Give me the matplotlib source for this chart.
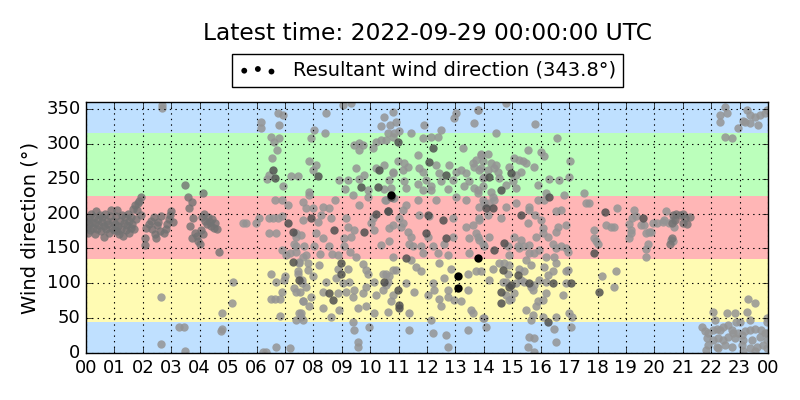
import matplotlib
matplotlib.use("Agg")
import matplotlib.pyplot as plt

# hour of day (UTC) and wind direction (deg), grouped by shade of the marker
mid_h = [0.02, 0.04, 0.06, 0.09, 0.12, 0.15, 0.18, 0.2, 0.24, 0.27, 0.3, 0.33, 0.36, 0.39, 0.42, 0.45,
         0.48, 0.52, 0.55, 0.58, 0.62, 0.65, 0.68, 0.72, 0.75, 0.78, 0.82, 0.85, 0.88, 0.92, 0.95, 0.98,
         1.02, 1.05, 1.08, 1.1, 1.13, 1.16, 1.2, 1.23, 1.26, 1.3, 1.33, 1.37, 1.4, 1.43, 1.47, 1.5,
         1.53, 1.57, 1.6, 1.63, 1.67, 1.7, 1.73, 1.77, 1.8, 1.83, 1.87, 1.92, 1.95,
         2.06, 2.09, 2.12, 2.2, 2.28, 2.33, 2.38, 2.42, 2.45, 2.5, 2.55, 2.6, 2.65, 2.75, 2.8, 2.86,
         2.92, 2.97, 3.0, 3.05,
         3.5, 3.58, 3.74, 3.62, 3.78, 3.66, 3.85, 3.9, 3.95, 4.02, 3.72,
         4.1, 4.08, 4.15, 4.2, 4.25, 4.3, 4.35, 4.4, 4.45, 4.5, 4.55, 4.62, 4.69, 4.04, 4.1,
         20.67, 20.78, 20.9, 21.02, 21.08, 21.25, 20.72, 20.61, 20.61, 20.55, 21.02, 21.14]
mid_d = [190, 180, 172, 195, 185, 176, 200, 188, 180, 195, 170, 186, 203, 178, 192, 184,
         198, 175, 188, 195, 166, 182, 200, 178, 190, 185, 172, 197, 205, 180, 190, 176,
         185, 196, 175, 205, 182, 170, 190, 178, 198, 168, 186, 195, 176, 183, 200, 172,
         190, 180, 195, 185, 206, 178, 212, 192, 205, 215, 218, 224, 198,
         165, 155, 180, 185, 190, 178, 195, 170, 165, 183, 188, 175, 197, 172, 178, 185,
         192, 198, 203, 188,
         241, 224, 217, 208, 194, 182, 172, 168, 160, 157, 165,
         229, 195, 200, 190, 185, 195, 188, 182, 192, 180, 186, 178, 145, 177, 170,
         198, 200, 198, 200, 193, 195, 191, 186, 165, 157, 186, 185]

light_h = [2.69, 2.69, 2.63, 3.27, 3.45, 2.65, 3.48,
           5.51, 5.63, 5.98, 6.10, 6.45, 6.59, 6.74, 6.43, 6.69, 6.90, 5.16, 5.14, 4.79, 4.75, 4.79,
           6.22, 6.33, 6.74, 6.94, 6.16, 6.16, 6.78, 6.51, 6.63, 6.80, 6.71, 6.54, 6.43, 6.36, 6.94,
           7.21, 7.45, 6.66, 6.88, 7.10, 7.39, 7.33, 6.90, 7.04, 7.18, 7.39, 7.62, 7.51,
           6.51, 6.69, 7.01, 6.98, 7.45, 7.60, 7.33, 6.90, 6.51, 6.66, 6.83, 7.53, 7.62, 6.83, 7.56,
           7.62, 6.69, 7.18,
           9.03, 9.32, 8.44, 10.5, 10.38, 10.70, 10.85, 7.92, 8.42, 8.03,
           9.62, 9.74, 9.44, 9.62, 10.20, 10.38, 10.09, 7.86, 8.09, 7.98, 9.50, 10.20, 10.50, 10.79,
           9.62, 9.79, 9.21, 8.91, 9.13, 9.91, 10.50, 10.81, 7.86, 7.83, 9.38,
           7.62, 7.74, 7.98, 8.33, 8.56, 8.77, 9.62, 9.91, 10.53, 10.09, 7.62, 8.27, 8.15, 8.62,
           9.15, 9.21, 9.44, 10.03, 10.15, 10.79, 7.39, 7.56, 8.09, 8.33, 9.09, 9.32, 10.67, 10.38,
           7.39, 7.68, 8.03, 8.56, 9.09, 7.74, 8.23, 8.66, 8.86, 9.29, 9.50, 9.74,
           7.51, 7.80, 8.21, 7.80, 8.86, 9.21, 9.85, 10.44, 10.67, 10.79, 7.45, 7.60, 7.98, 8.44,
           8.80, 9.03, 9.27, 9.91, 10.15, 10.56, 7.39, 7.74, 7.92, 8.33, 8.86, 9.15, 9.38, 9.74,
           9.85, 9.44, 10.20, 10.44, 10.79, 7.62, 7.86, 7.56, 8.33, 8.62, 8.91, 9.56, 9.85, 10.15,
           10.61, 7.39, 7.51, 9.38, 9.44, 9.97, 9.56, 9.56,
           10.79, 10.91, 11.91, 13.02, 12.96, 13.78, 13.66, 10.61, 11.03, 11.44,
           10.56, 10.79, 11.85, 12.14, 12.37, 12.49, 13.25, 13.90, 11.67, 10.79, 10.97, 11.14, 11.20,
           11.32, 11.73, 11.85, 12.32, 12.43, 12.78, 13.02, 13.20, 13.37, 13.61, 13.66, 13.84, 14.02,
           10.67, 11.20, 11.67, 11.96, 12.14, 12.49, 12.90, 13.49, 13.66, 13.31, 13.96, 10.73, 11.26,
           11.85, 12.14, 12.73, 13.78, 10.85,
           10.56, 11.14, 11.26, 11.67, 12.32, 13.02, 13.37, 14.02, 11.03, 11.14, 11.73, 12.08, 12.90,
           13.37, 13.61, 13.84, 10.67, 11.08, 11.32, 11.38, 11.49, 11.44, 12.02, 12.61, 12.90, 13.49,
           13.78, 14.02, 11.85, 12.37, 12.73, 13.49, 10.79, 11.44, 12.20, 11.79,
           10.56, 10.91, 11.61, 11.79, 12.43, 12.84, 13.43, 13.72, 10.61, 11.26, 11.55, 12.20, 12.26,
           12.61, 12.73, 13.43, 10.73, 12.02, 12.43, 12.49, 12.73, 12.96, 13.20, 13.55, 11.38, 13.61,
           12.14, 14.02, 11.38, 12.20, 12.67, 13.43, 12.75,
           13.78, 14.78, 15.81, 16.56, 14.43,
           13.90, 14.13, 13.72, 13.96, 14.25, 14.43, 14.37, 14.13, 13.90, 14.49, 13.96, 14.54, 14.90,
           15.07, 15.25, 15.37, 15.48, 15.54, 15.78, 16.01, 16.13, 15.13, 15.31, 15.01, 15.13, 14.25,
           14.31, 14.78, 13.78, 15.89, 16.28, 16.66, 16.98, 16.19, 16.13, 16.83, 17.04,
           13.84, 13.96, 14.19, 14.37, 14.78, 15.13, 15.60, 15.89, 14.13, 14.60, 15.60, 15.81, 16.01,
           16.54, 16.71, 13.84, 16.07, 15.54, 13.72, 13.84, 14.19, 15.07, 15.19, 15.31, 15.60, 15.83,
           16.07, 16.25, 16.54, 16.60, 16.89, 16.42, 16.54, 16.71, 16.89, 16.95, 13.96, 14.84, 14.90,
           15.25, 15.42, 15.78, 15.95, 16.19, 15.60, 16.48,
           13.90, 14.31, 14.54, 14.72, 14.90, 14.84, 15.25, 15.48, 15.66, 16.13, 16.25, 16.42, 16.54,
           16.89, 16.95, 15.42, 14.19, 14.66, 14.78, 15.13, 15.31, 15.42, 15.78, 15.95, 16.19, 16.89,
           14.78, 14.96, 15.07, 15.66, 15.72, 16.07, 16.19, 16.77, 14.90, 15.89, 15.83, 15.48, 15.72,
           15.66, 16.07, 16.54, 17.01, 17.12, 13.96, 14.07, 16.48, 17.07,
           15.60, 15.78, 15.54, 16.54, 15.78,
           17.53, 17.59, 17.69, 18.67, 18.30, 18.47, 18.59, 17.89, 17.89, 17.94, 18.00, 19.12, 19.29,
           19.35, 19.23, 19.53, 19.65, 19.18, 19.12, 19.18, 19.70, 19.80, 19.88, 19.76, 19.70, 19.70,
           19.94, 20.11, 20.29, 20.41, 20.35, 20.53, 20.64, 20.58, 20.64, 20.70, 18.16, 18.65, 18.59,
           22.48, 22.54, 22.31, 22.31, 23.25, 23.36, 23.54, 23.72, 23.89, 23.19, 23.36, 23.13, 23.66,
           22.95, 22.48, 22.72, 23.98,
           23.30, 23.54, 22.05, 22.57, 22.84, 23.25, 23.36, 23.95, 22.13, 22.89, 23.01, 21.66, 21.78,
           21.90, 22.05, 22.19, 22.31, 22.43, 22.60, 22.72, 22.78, 22.95, 23.07, 23.19, 23.36, 23.54,
           23.77, 23.89, 21.84, 22.07, 22.25, 22.43, 22.60, 22.84, 23.13, 23.42, 23.72, 23.95, 21.90,
           22.19, 22.48, 22.72, 23.07, 23.36, 23.60, 23.83, 23.95, 21.82, 22.25, 23.13, 23.54, 23.98,
           23.95]
light_d = [356, 351, 81, 38, 38, 13, 3,
           187, 187, 186, 193, 193, 193, 193, 172, 172, 196, 102, 71, 57, 31, 34,
           1, 1, 344, 341, 332, 322, 327, 310, 303, 309, 291, 279, 255, 249, 240,
           254, 254, 220, 220, 212, 167, 157, 148, 141, 143, 145, 138, 129,
           114, 102, 110, 105, 117, 101, 93, 88, 78, 77, 78, 87, 74, 53, 52,
           47, 9, 7,
           356, 358, 344, 339, 325, 327, 315, 308, 315, 320,
           301, 298, 298, 291, 303, 306, 294, 275, 270, 263, 265, 265, 270, 260,
           250, 255, 248, 248, 235, 234, 235, 222, 231, 227, 227,
           217, 208, 208, 210, 208, 220, 212, 224, 220, 193, 191, 198, 188, 193,
           193, 181, 177, 186, 177, 184, 172, 169, 172, 165, 165, 167, 160, 155,
           153, 153, 153, 153, 153, 141, 142, 142, 141, 145, 138, 128,
           131, 129, 126, 119, 121, 121, 119, 114, 110, 119, 114, 105, 110, 102,
           107, 100, 102, 114, 102, 98, 88, 95, 81, 87, 86, 87, 81, 86,
           95, 90, 83, 90, 83, 74, 67, 57, 64, 52, 61, 64, 67, 57,
           59, 47, 57, 45, 33, 38, 16, 9,
           346, 332, 327, 344, 337, 349, 330, 315, 318, 315,
           306, 310, 308, 310, 310, 320, 294, 286, 284, 258, 275, 263, 272,
           267, 265, 260, 270, 258, 270, 260, 263, 258, 272, 267, 263, 253,
           248, 246, 243, 248, 239, 246, 248, 246, 236, 239, 239, 236, 236,
           234, 234, 235, 230, 222,
           220, 205, 212, 220, 220, 224, 220, 215, 193, 186, 198, 196, 193,
           181, 184, 193, 179, 181, 174, 157, 153, 167, 167, 157, 167, 165,
           167, 153, 143, 143, 141, 143, 138, 133, 153, 153,
           114, 119, 124, 117, 129, 121, 114, 117, 102, 100, 88, 100, 90,
           107, 90, 90, 74, 83, 77, 67, 81, 76, 74, 62, 57, 57,
           47, 50, 33, 28, 26, 33, 9,
           349, 358, 329, 308, 315,
           284, 286, 277, 275, 272, 270, 265, 263, 265, 260, 251, 251, 267,
           279, 277, 275, 272, 291, 267, 289, 282, 255, 260, 246, 236, 231,
           224, 241, 234, 241, 249, 248, 252, 229, 220, 227, 275,
           210, 220, 215, 220, 210, 215, 210, 220, 198, 193, 205, 198, 191,
           203, 205, 191, 179, 186, 172, 162, 167, 167, 153, 162, 155, 167,
           172, 167, 174, 181, 184, 157, 150, 153, 150, 145, 157, 153, 141,
           150, 153, 143, 148, 138, 143, 138,
           117, 121, 129, 129, 126, 114, 121, 133, 126, 124, 112, 117, 129,
           117, 119, 117, 105, 102, 102, 100, 105, 102, 98, 105, 102, 100,
           83, 78, 86, 95, 90, 76, 86, 83, 76, 74, 67, 62, 55,
           47, 52, 52, 57, 52, 50, 38, 35, 38,
           23, 21, 9, 16, 1,
           229, 215, 215, 208, 184, 181, 181, 176, 165, 160, 156, 185, 205,
           196, 193, 184, 184, 176, 165, 172, 172, 174, 174, 157, 149, 138,
           186, 186, 188, 203, 191, 186, 191, 162, 160, 181, 110, 117, 94,
           353, 344, 341, 332, 349, 341, 339, 341, 344, 332, 330, 333, 327,
           322, 310, 308, 349,
           78, 71, 59, 57, 57, 59, 47, 50, 47, 45, 45, 38, 31,
           28, 33, 35, 33, 38, 40, 33, 28, 28, 26, 31, 33, 35,
           33, 28, 21, 19, 21, 19, 23, 21, 19, 19, 23, 19, 11,
           9, 11, 9, 11, 7, 9, 11, 7, 4, 7, 3, 3, 28,
           45]

dark_h = [6.59, 6.66, 7.10, 7.27, 7.27, 7.48,
          8.15, 10.30, 9.68, 10.26, 10.73, 10.61, 10.20, 7.92, 9.79, 8.74, 8.97, 8.97, 10.50, 8.56, 8.68,
          10.97, 12.20, 12.08, 12.67, 10.61, 12.02, 12.55, 11.96, 12.67, 11.26, 10.97, 11.03, 11.03,
          14.19, 14.96, 14.60, 16.30, 14.07, 14.31, 15.31, 14.37, 14.72, 14.66, 15.19, 14.96, 14.87,
          15.60, 16.42, 17.07, 14.60, 14.60, 16.25,
          18.27, 19.59, 17.86, 18.06]
dark_d = [263, 251, 186, 174, 131, 105,
          254, 263, 238, 238, 224, 203, 200, 193, 174, 177, 129, 114, 102, 86, 76,
          303, 294, 274, 255, 203, 198, 191, 172, 165, 136, 90, 69, 64,
          253, 258, 234, 224, 208, 208, 198, 148, 158, 119, 112, 98, 95,
          100, 100, 101, 88, 72, 45,
          202, 193, 143, 87]

black_h = [10.73, 13.78, 13.08, 13.08]
black_d = [227, 136, 111, 93]

resultant = 343.8
latest = "2022-09-29 00:00:00 UTC"

# direction sectors: (low, high, colour)
bands = [(0, 45, "#bfe0ff"), (45, 135, "#fffbb3"), (135, 225, "#ffb6b6"),
         (225, 315, "#bbffbb"), (315, 360, "#bfe0ff")]

plt.style.use("classic")
fig = plt.figure(figsize=(8, 4), dpi=100, facecolor="white")
ax = fig.add_axes([0.1075, 0.1175, 0.8525, 0.6275])

for lo, hi, c in bands:
    ax.axhspan(lo, hi, color=c, lw=0, zorder=0)

ax.scatter(light_h, light_d, s=36, c="#949494", lw=0, alpha=0.85, zorder=2)
ax.scatter(mid_h, mid_d, s=36, c="#727272", lw=0, alpha=0.8, zorder=2)
ax.scatter(dark_h, dark_d, s=36, c="#505050", lw=0, alpha=0.85, zorder=3)
ax.scatter(black_h, black_d, s=36, c="black", lw=0, zorder=4,
           label="Resultant wind direction (%.1f°)" % resultant)

ax.set_xlim(0, 24)
ax.set_ylim(0, 360)
ax.set_xticks(range(25))
ax.set_xticklabels(["%02d" % (h % 24) for h in range(25)])
ax.set_yticks(range(0, 351, 50))
ax.tick_params(labelsize=13)
ax.grid(True, color="black", linestyle=":", linewidth=0.8)
ax.set_axisbelow(False)
ax.set_ylabel("Wind direction (°)", fontsize=14)

fig.text(0.534, 0.915, "Latest time: " + latest, ha="center", va="center", fontsize=16.8)
fig.legend(loc="upper center", bbox_to_anchor=(0.534, 0.865), scatterpoints=3,
           markerscale=0.7, fontsize=14, frameon=True, fancybox=False,
           borderpad=0.35, borderaxespad=0)

fig.savefig("out.png", dpi=100, facecolor="white")
